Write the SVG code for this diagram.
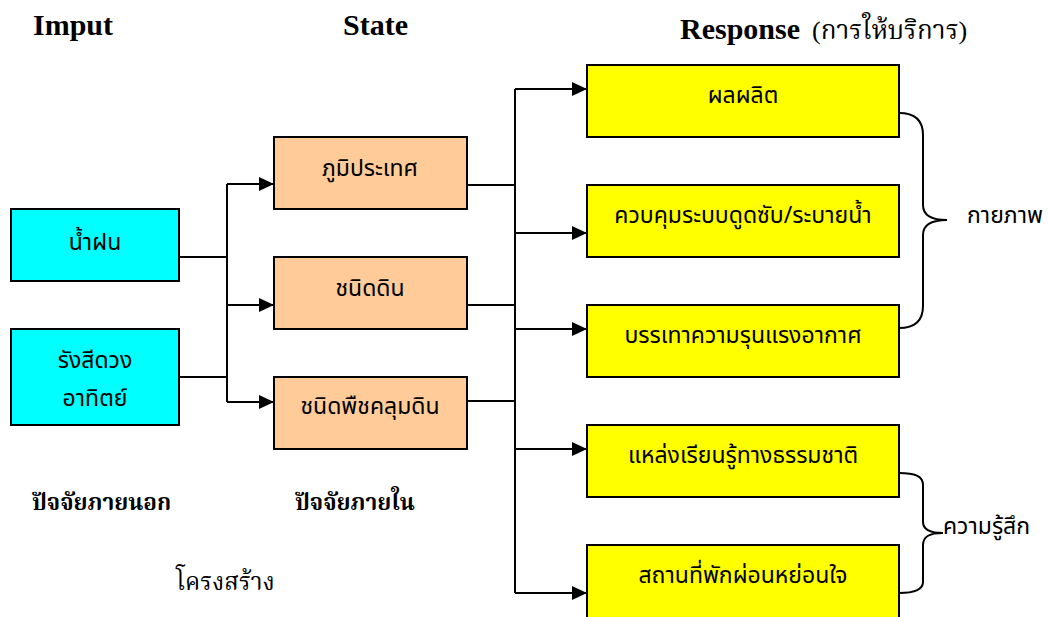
<svg xmlns="http://www.w3.org/2000/svg" width="1048" height="617" viewBox="0 0 1048 617">
<style>
.box{stroke:#000;stroke-width:2}
.cyan{fill:#00ffff}
.orange{fill:#ffcc99}
.yellow{fill:#ffff00}
.t{font-family:"Noto Sans Thai","Noto Sans",sans-serif;font-size:23px;fill:#000;text-anchor:middle}
.lbl{font-family:"Noto Sans Thai","Noto Sans",sans-serif;font-size:23px;fill:#000}
.title{font-family:"Liberation Serif",serif;font-weight:bold;font-size:30px;fill:#000}
.sub{font-family:"Liberation Serif","Noto Serif Thai","Noto Sans Thai",serif;font-size:26px;fill:#000}
.sub2{font-family:"Liberation Serif","Noto Serif Thai","Noto Sans Thai",serif;font-size:24px;fill:#000}
.bsub{font-family:"Liberation Serif","Noto Serif Thai","Noto Sans Thai",serif;font-weight:bold;font-size:22.5px;fill:#000}
.ln{fill:none;stroke:#000;stroke-width:2}
</style>
<defs>
<marker id="arr" markerWidth="15" markerHeight="14" refX="15" refY="7" orient="auto" markerUnits="userSpaceOnUse">
<path d="M0,0 L15,7 L0,14 Z" fill="#000"/>
</marker>
</defs>
<rect width="1048" height="617" fill="#fff"/>
<g id="titles">
<text class="title" x="33" y="35">Imput</text>
<text class="title" x="343" y="35">State</text>
<text class="title" x="680" y="39">Response</text>
<text class="sub" x="812" y="39">(การให้บริการ)</text>
<text class="bsub" x="32" y="510">ปัจจัยภายนอก</text>
<text class="bsub" x="295" y="510">ปัจจัยภายใน</text>
<text class="sub2" x="176" y="590">โครงสร้าง</text>
</g>
<g id="connectors">
<polyline class="ln" points="179,257 227,257"/>
<polyline class="ln" points="179,377 227,377"/>
<line class="ln" x1="227" y1="184" x2="227" y2="402"/>
<line class="ln" x1="227" y1="184" x2="274" y2="184" marker-end="url(#arr)"/>
<line class="ln" x1="227" y1="305" x2="274" y2="305" marker-end="url(#arr)"/>
<line class="ln" x1="227" y1="402" x2="274" y2="402" marker-end="url(#arr)"/>
<line class="ln" x1="467" y1="185" x2="515" y2="185"/>
<line class="ln" x1="467" y1="305" x2="515" y2="305"/>
<line class="ln" x1="467" y1="401" x2="515" y2="401"/>
<line class="ln" x1="515" y1="89" x2="515" y2="593"/>
<line class="ln" x1="515" y1="89" x2="587" y2="89" marker-end="url(#arr)"/>
<line class="ln" x1="515" y1="233" x2="587" y2="233" marker-end="url(#arr)"/>
<line class="ln" x1="515" y1="329" x2="587" y2="329" marker-end="url(#arr)"/>
<line class="ln" x1="515" y1="449" x2="587" y2="449" marker-end="url(#arr)"/>
<line class="ln" x1="515" y1="593" x2="587" y2="593" marker-end="url(#arr)"/>
<path class="ln" d="M899,113 C915,113 923,120 923,135 L923,205 C923,215 930,220 947,220 C930,220 923,225 923,235 L923,306 C923,321 915,328 899,328"/>
<path class="ln" d="M899,473 C915,473 923,476 923,485 L923,522 C923,530 930,533 943,533 C930,533 923,536 923,545 L923,582 C923,590 915,593 899,593"/>
</g>
<g id="n-rain"><rect class="box cyan" x="11" y="209" width="168" height="72"/><text class="t" x="95" y="250">น้ำฝน</text></g>
<g id="n-sun"><rect class="box cyan" x="11" y="329" width="168" height="96"/><text class="t" x="95" y="368">รังสีดวง</text><text class="t" x="95" y="406">อาทิตย์</text></g>
<g id="n-terrain"><rect class="box orange" x="274" y="137" width="193" height="72"/><text class="t" x="370" y="176">ภูมิประเทศ</text></g>
<g id="n-soil"><rect class="box orange" x="274" y="257" width="193" height="72"/><text class="t" x="370" y="296">ชนิดดิน</text></g>
<g id="n-cover"><rect class="box orange" x="274" y="377" width="193" height="72"/><text class="t" x="370" y="414">ชนิดพืชคลุมดิน</text></g>
<g id="n-product"><rect class="box yellow" x="587" y="65" width="312" height="72"/><text class="t" x="743" y="103">ผลผลิต</text></g>
<g id="n-control"><rect class="box yellow" x="587" y="185" width="312" height="72"/><text class="t" x="743" y="223">ควบคุมระบบดูดซับ/ระบายน้ำ</text></g>
<g id="n-mitigate"><rect class="box yellow" x="587" y="305" width="312" height="72"/><text class="t" x="743" y="343">บรรเทาความรุนแรงอากาศ</text></g>
<g id="n-learn"><rect class="box yellow" x="587" y="425" width="312" height="72"/><text class="t" x="743" y="463">แหล่งเรียนรู้ทางธรรมชาติ</text></g>
<g id="n-relax"><rect class="box yellow" x="587" y="545" width="312" height="73"/><text class="t" x="743" y="583">สถานที่พักผ่อนหย่อนใจ</text></g>
<g id="labels">
<text class="lbl" x="967" y="223">กายภาพ</text>
<text class="lbl" x="943" y="534">ความรู้สึก</text>
</g>
</svg>
